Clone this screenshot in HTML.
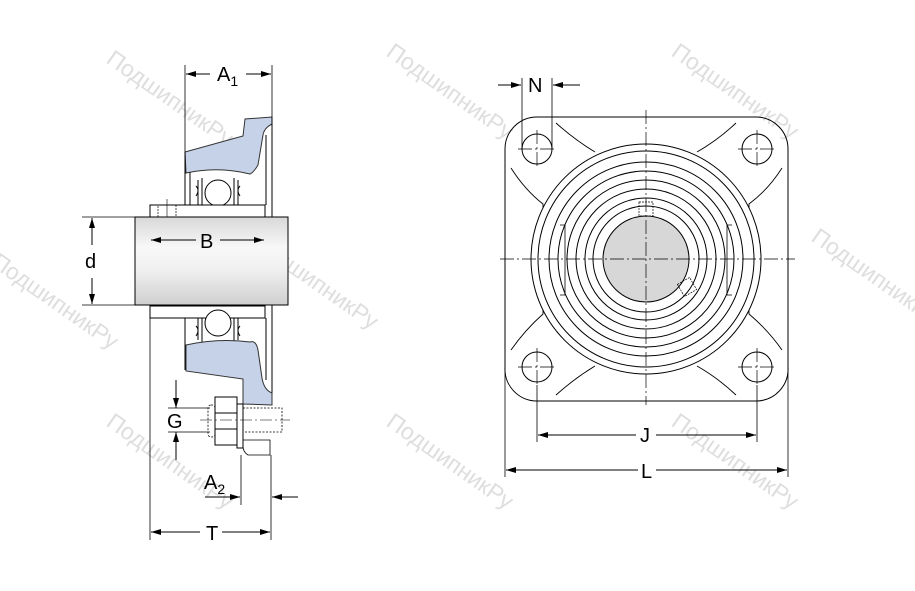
<!DOCTYPE html>
<html><head><meta charset="utf-8"><style>
html,body{margin:0;padding:0;background:#fff;}
svg{display:block;}
text{font-family:"Liberation Sans",sans-serif;}
.wm{font-family:"Liberation Serif",serif;font-size:23px;fill:#dedede;}
</style></head><body>
<svg width="915" height="591" viewBox="0 0 915 591" xmlns="http://www.w3.org/2000/svg">
<defs>
<linearGradient id="sh" x1="0" y1="0" x2="0" y2="1">
<stop offset="0" stop-color="#d8d8d8"/><stop offset="0.35" stop-color="#f8f8f8"/><stop offset="0.6" stop-color="#f0f0f0"/><stop offset="1" stop-color="#cfcfcf"/>
</linearGradient>
<marker id="ar" viewBox="0 0 10 6" refX="10" refY="3" markerWidth="10" markerHeight="6" orient="auto-start-reverse" markerUnits="userSpaceOnUse"><path d="M0,0L10,3L0,6z" fill="#000"/></marker>
</defs>

<g class="wm">
<text transform="translate(105,62) rotate(35)">ПодшипникРу</text>
<text transform="translate(385,55) rotate(35)">ПодшипникРу</text>
<text transform="translate(670,55) rotate(35)">ПодшипникРу</text>
<text transform="translate(-10,265) rotate(35)">ПодшипникРу</text>
<text transform="translate(250,245) rotate(35)">ПодшипникРу</text>
<text transform="translate(530,250) rotate(35)">ПодшипникРу</text>
<text transform="translate(810,240) rotate(35)">ПодшипникРу</text>
<text transform="translate(105,425) rotate(35)">ПодшипникРу</text>
<text transform="translate(385,425) rotate(35)">ПодшипникРу</text>
<text transform="translate(670,425) rotate(35)">ПодшипникРу</text>
</g>

<g fill="none" stroke="#000" stroke-width="1">
<!-- LEFT VIEW -->
<path d="M185,152 L243,136 L245,119 L272,117 L272,124 Q264,128 263,135 L258,165 Q254,172 250,174 Q218,166 186,173 Z" fill="#c5d2e8" stroke="#333"/>
<line x1="272" y1="117" x2="272" y2="218"/>
<line x1="185" y1="152" x2="185" y2="205"/>
<line x1="190" y1="172" x2="190" y2="205"/>
<line x1="266" y1="135" x2="266" y2="205"/>
<circle cx="218" cy="193" r="13" fill="#fff"/>
<path d="M198,180 L198,205 M202,178 L202,205 M238,180 L238,205 M234,178 L234,205"/>
<path d="M196,186 Q200,190 196,196 M240,186 Q236,190 240,196"/>
<rect x="150" y="205" width="115" height="12" fill="#fff"/>
<rect x="158" y="205" width="18" height="12" stroke-dasharray="2,1" stroke-width="0.7"/>
<line x1="167" y1="199" x2="167" y2="220" stroke-width="0.6"/>
<rect x="135" y="217" width="153" height="88" fill="url(#sh)" stroke="#000"/>
<rect x="150" y="306" width="115" height="12" fill="#fff"/>
<circle cx="218" cy="323" r="13" fill="#fff"/>
<path d="M198,318 L198,340 M202,318 L202,342 M238,318 L238,340 M234,318 L234,342"/>
<path d="M196,326 Q200,330 196,336 M240,326 Q236,330 240,336"/>
<line x1="185" y1="318" x2="185" y2="370"/>
<line x1="266" y1="318" x2="266" y2="380"/>
<line x1="272" y1="305" x2="272" y2="405"/>
<path d="M186,345 Q218,338 250,342 Q256,340 258,350 L262,378 Q264,390 272,393 L272,405 L243,404 L243,379 L186,371 Z" fill="#c5d2e8" stroke="#333"/>
<rect x="215" y="397" width="22" height="48" fill="#fff"/>
<line x1="215" y1="413" x2="237" y2="413"/><line x1="215" y1="429" x2="237" y2="429"/>
<rect x="208" y="405" width="7" height="32" rx="3" stroke-dasharray="2,1.5" stroke-width="0.8"/>
<rect x="237" y="404" width="6" height="44"/>
<rect x="243" y="408" width="39" height="24" stroke-dasharray="2,1.5" stroke-width="0.8"/>
<path d="M243,440 L270,440 L270,455 L248,455 Q243,452 243,446" stroke-width="0.8"/>
<line x1="200" y1="420" x2="290" y2="420" stroke-width="0.6" stroke-dasharray="12,3,2,3"/>

<line x1="185" y1="65" x2="185" y2="152" stroke-width="0.8"/>
<line x1="272" y1="65" x2="272" y2="117" stroke-width="0.8"/>
<line x1="186" y1="74" x2="210" y2="74" marker-start="url(#ar)"/>
<line x1="246" y1="74" x2="271" y2="74" marker-end="url(#ar)"/>
<line x1="82" y1="217" x2="135" y2="217" stroke-width="0.8"/>
<line x1="82" y1="305" x2="135" y2="305" stroke-width="0.8"/>
<line x1="92" y1="218" x2="92" y2="245" marker-start="url(#ar)"/>
<line x1="92" y1="278" x2="92" y2="304" marker-end="url(#ar)"/>
<line x1="151" y1="240" x2="196" y2="240" marker-start="url(#ar)"/>
<line x1="220" y1="240" x2="264" y2="240" marker-end="url(#ar)"/>
<line x1="150" y1="318" x2="150" y2="540" stroke-width="0.8"/>
<line x1="271" y1="455" x2="271" y2="540" stroke-width="0.8"/>
<line x1="241" y1="455" x2="241" y2="505" stroke-width="0.8"/>
<line x1="168" y1="408" x2="210" y2="408" stroke-width="0.8"/>
<line x1="168" y1="432" x2="210" y2="432" stroke-width="0.8"/>
<line x1="176" y1="380" x2="176" y2="408" marker-end="url(#ar)"/>
<line x1="176" y1="432" x2="176" y2="460" marker-start="url(#ar)"/>
<line x1="205" y1="497" x2="240" y2="497" marker-end="url(#ar)"/>
<line x1="272" y1="497" x2="298" y2="497" marker-start="url(#ar)"/>
<line x1="151" y1="532" x2="200" y2="532" marker-start="url(#ar)"/>
<line x1="222" y1="532" x2="270" y2="532" marker-end="url(#ar)"/>

<!-- RIGHT VIEW -->
<path d="M537,117 L757,117 A32,32 0 0 1 788,149 L788,367 A32,32 0 0 1 757,401 L537,401 A32,32 0 0 1 505,367 L505,149 A32,32 0 0 1 537,117 Z" stroke="#000"/>
<path d="M511,168 Q525,190 543,204 L543,314 Q525,330 511,350 M782,168 Q768,190 749,204 L749,314 Q768,330 782,350 M556,123 Q575,140 595,152 M697,152 Q718,140 736,123 M556,395 Q575,378 595,366 M697,366 Q718,378 736,395" stroke-width="0.9"/>
<circle cx="537" cy="149" r="15"/><circle cx="757" cy="149" r="15"/>
<circle cx="537" cy="367" r="15"/><circle cx="757" cy="367" r="15"/>
<circle cx="646" cy="259" r="115" fill="#fff"/>
<circle cx="646" cy="259" r="108"/>
<circle cx="646" cy="259" r="97"/>
<circle cx="646" cy="259" r="88"/>
<circle cx="646" cy="259" r="79"/>
<circle cx="646" cy="259" r="70"/>
<circle cx="646" cy="259" r="61"/>
<circle cx="646" cy="259" r="53"/>
<circle cx="646" cy="259" r="43" fill="#d7d7d7"/>
<path d="M560,225 L565,225 L565,295 L560,295 M732,225 L727,225 L727,295 L732,295" stroke-width="0.8"/>
<rect x="639" y="202" width="14" height="14" stroke-dasharray="2,1" stroke-width="0.7"/>
<rect x="680" y="280" width="14" height="14" stroke-dasharray="2,1" stroke-width="0.7" transform="rotate(-30 687 287)"/>
<g stroke-width="0.7" stroke-dasharray="14,3,2,3">
<line x1="500" y1="259" x2="795" y2="259"/>
<line x1="646" y1="110" x2="646" y2="405"/>
<line x1="518" y1="149" x2="556" y2="149"/><line x1="537" y1="130" x2="537" y2="168"/>
<line x1="738" y1="149" x2="776" y2="149"/><line x1="757" y1="130" x2="757" y2="168"/>
<line x1="518" y1="367" x2="556" y2="367"/><line x1="537" y1="348" x2="537" y2="386"/>
<line x1="738" y1="367" x2="776" y2="367"/><line x1="757" y1="348" x2="757" y2="386"/>
</g>
<line x1="522" y1="78" x2="522" y2="149" stroke-width="0.8"/>
<line x1="552" y1="78" x2="552" y2="149" stroke-width="0.8"/>
<line x1="498" y1="85" x2="521" y2="85" marker-end="url(#ar)"/>
<line x1="580" y1="85" x2="553" y2="85" marker-end="url(#ar)"/>
<line x1="537" y1="385" x2="537" y2="442" stroke-width="0.8"/>
<line x1="757" y1="385" x2="757" y2="442" stroke-width="0.8"/>
<line x1="538" y1="435" x2="636" y2="435" marker-start="url(#ar)"/>
<line x1="656" y1="435" x2="756" y2="435" marker-end="url(#ar)"/>
<line x1="505" y1="367" x2="505" y2="477" stroke-width="0.8"/>
<line x1="788" y1="367" x2="788" y2="477" stroke-width="0.8"/>
<line x1="506" y1="470" x2="638" y2="470" marker-start="url(#ar)"/>
<line x1="656" y1="470" x2="787" y2="470" marker-end="url(#ar)"/>
</g>

<g font-size="20" fill="#000">
<text x="217" y="81">A<tspan font-size="14" dy="5">1</tspan></text>
<text x="200" y="248">B</text>
<text x="85" y="268">d</text>
<text x="167" y="428">G</text>
<text x="204" y="489">A<tspan font-size="14" dy="5">2</tspan></text>
<text x="206" y="540">T</text>
<text x="528" y="92">N</text>
<text x="640" y="442">J</text>
<text x="641" y="478">L</text>
</g>
</svg>
</body></html>
